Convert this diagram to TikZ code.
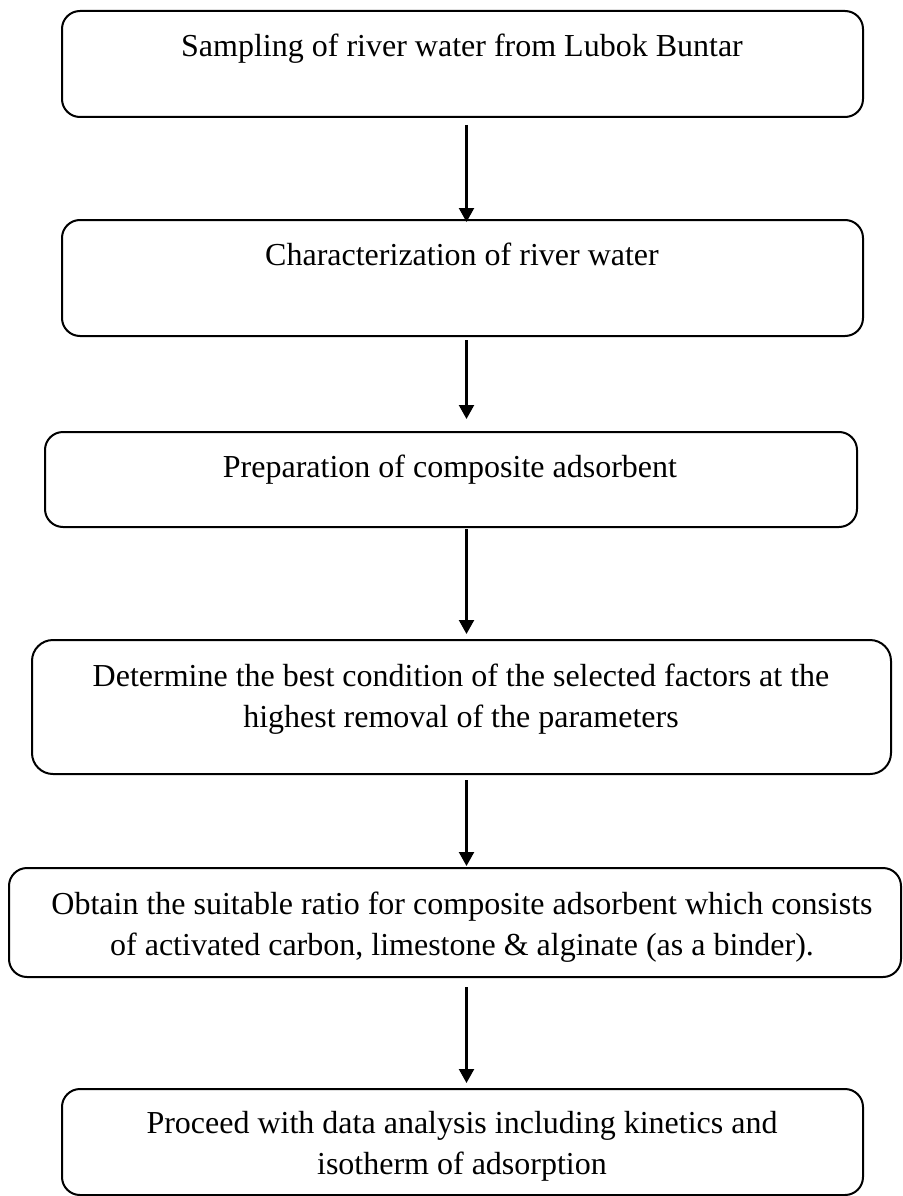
\documentclass[tikz,border=0pt]{standalone}
\usepackage{fontspec}
\setmainfont{Liberation Serif}
\usetikzlibrary{arrows.meta,calc}
\begin{document}
\begin{tikzpicture}[x=1pt,y=-1pt,
  stepbox/.style={draw=black,line width=2pt,rounded corners=18pt,inner sep=0pt,minimum width=#1},
  steptext/.style={inner sep=0pt,anchor=base,align=center,font=\fontsize{32}{41}\selectfont},
  arr/.style={line width=2.2pt,-{Triangle[width=15pt,length=14pt]}}]
\useasboundingbox[fill=white] (0,0) rectangle (902,1196);
\coordinate (ax) at (466.5,0);
% boxes
\node[stepbox=801pt,minimum height=106pt] (b1) at (462.5,64) {};
\node[stepbox=801pt,minimum height=116pt] (b2) at (462.5,278) {};
\node[stepbox=812pt,minimum height=95pt] (b3) at (451,479.5) {};
\node[stepbox=859pt,minimum height=134pt,rounded corners=21pt] (b4) at (461.5,707) {};
\node[stepbox=892pt,minimum height=109pt] (b5) at (455,922.5) {};
\node[stepbox=801pt,minimum height=106pt] (b6) at (462.5,1142) {};
% texts (base anchor = last line)
\node[steptext] (t1) at (462,57) {Sampling of river water from Lubok Buntar};
\node[steptext] (t2) at (462,265) {Characterization of river water};
\node[steptext] (t3) at (450,477) {Preparation of composite adsorbent};
\node[steptext] (t4) at (461,727) {Determine the best condition of the selected factors at the\\highest removal of the parameters};
\node[steptext] (t5) at (462,955) {Obtain the suitable ratio for composite adsorbent which consists\\of activated carbon, limestone \& alginate (as a binder).};
\node[steptext] (t6) at (462,1174) {Proceed with data analysis including kinetics and\\isotherm of adsorption};
% arrows
\draw[arr] ($(b1.south -| ax)+(0,7)$) -- ($(b2.north -| ax)+(0,3)$);
\draw[arr] ($(b2.south -| ax)+(0,3)$) -- ($(b3.north -| ax)+(0,-12)$);
\draw[arr] ($(b3.south -| ax)+(0,1)$) -- ($(b4.north -| ax)+(0,-5)$);
\draw[arr] ($(b4.south -| ax)+(0,5)$) -- ($(b5.north -| ax)+(0,-1)$);
\draw[arr] ($(b5.south -| ax)+(0,9)$) -- ($(b6.north -| ax)+(0,-5)$);
\end{tikzpicture}
\end{document}
